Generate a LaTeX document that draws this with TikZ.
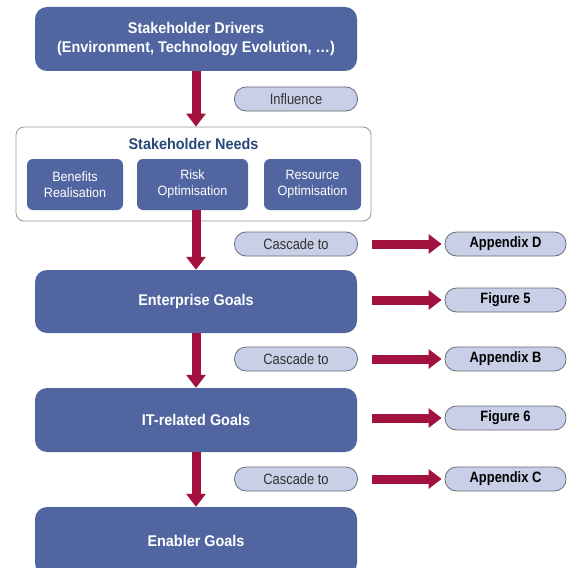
\documentclass[tikz,border=0pt]{standalone}
\usepackage{fontspec}
\setmainfont[FakeStretch=0.93]{Liberation Sans}
\newfontfamily\pillfont[FakeStretch=0.86]{Liberation Sans}
\usetikzlibrary{arrows.meta}
\definecolor{boxblue}{RGB}{81,102,160}
\definecolor{pillfill}{RGB}{200,207,230}
\definecolor{pillline}{RGB}{105,110,122}
\definecolor{arrowred}{RGB}{163,18,63}
\definecolor{titleblue}{RGB}{40,72,120}
\definecolor{needline}{RGB}{150,150,150}
\begin{document}
\begin{tikzpicture}[x=1pt,y=-1pt,
  mainbox/.style={fill=boxblue, rounded corners=12pt, text=white,
    font=\fontsize{15.5}{19}\selectfont\bfseries, align=center,
    minimum width=322pt, inner sep=0pt},
  subbox/.style={fill=boxblue, rounded corners=6pt, text=white,
    font=\fontsize{13.5}{16}\selectfont, align=center,
    minimum height=51pt, inner sep=0pt},
  pill/.style={draw=pillline, line width=0.8pt, fill=pillfill,
    rounded corners=11.5pt, minimum width=123pt, minimum height=24pt,
    inner sep=0pt, font=\pillfont\fontsize{15}{17}\selectfont, text=black!80},
  refpill/.style={pill, minimum width=121pt,
    font=\pillfont\fontsize{15}{17}\selectfont\bfseries, text=black},
  bigarrow/.style={draw=arrowred, line width=9pt,
    -{Triangle[length=13pt,width=19pt]}},
]
\path[use as bounding box, clip] (0,0) rectangle (569,567);
\fill[white] (0,0) rectangle (569,567);

% main boxes
\node[mainbox, minimum height=64pt] (drv) at (196,39)
  {Stakeholder Drivers\\(Environment, Technology Evolution, \ldots)};
\node[mainbox, minimum height=63pt] (ent) at (196,301.5) {Enterprise Goals};
\node[mainbox, minimum height=64pt] (it) at (196,420) {IT-related Goals};
\node[mainbox, minimum height=68pt] (en) at (196,541) {Enabler Goals};

% stakeholder needs
\node[draw=needline, line width=0.8pt, fill=white, rounded corners=8pt,
  minimum width=355pt, minimum height=94pt, inner sep=0pt] (needs) at (193.5,174) {};
\node[text=titleblue, font=\fontsize{15.5}{19}\selectfont\bfseries, inner sep=0pt]
  (needstitle) at (193.5,144) {Stakeholder Needs};
\node[subbox, minimum width=96pt] (ben) at (75,184.5) {Benefits\\Realisation};
\node[subbox, minimum width=111pt] (risk) at (192.5,184.5) {Risk\\Optimisation};
\node[subbox, minimum width=97pt] (res) at (312.5,184.5) {Resource\\Optimisation};

% label pills
\node[pill] (infl) at (296,99) {Influence};
\node[pill] (casc1) at (296,244) {Cascade to};
\node[pill] (casc2) at (296,359) {Cascade to};
\node[pill] (casc3) at (296,479) {Cascade to};

% reference pills
\node[refpill] (appD) at (505.5,244) {Appendix D};
\node[refpill] (fig5) at (505.5,300) {Figure 5};
\node[refpill] (appB) at (505.5,359) {Appendix B};
\node[refpill] (fig6) at (505.5,418) {Figure 6};
\node[refpill] (appC) at (505.5,479) {Appendix C};

% vertical arrows
\draw[bigarrow] (drv.south) -- (drv.south |- needs.north);
\draw[bigarrow] (drv.south |- risk.south) -- (drv.south |- ent.north);
\draw[bigarrow] (ent.south) -- (it.north);
\draw[bigarrow] (it.south) -- (en.north);

% horizontal arrows
\draw[bigarrow, shorten <=14pt, shorten >=3pt] (casc1.east) -- (appD.west);
\draw[bigarrow, shorten <=15pt, shorten >=3pt] (ent.east |- fig5.west) -- (fig5.west);
\draw[bigarrow, shorten <=14pt, shorten >=3pt] (casc2.east) -- (appB.west);
\draw[bigarrow, shorten <=15pt, shorten >=3pt] (it.east |- fig6.west) -- (fig6.west);
\draw[bigarrow, shorten <=14pt, shorten >=3pt] (casc3.east) -- (appC.west);
\end{tikzpicture}
\end{document}
